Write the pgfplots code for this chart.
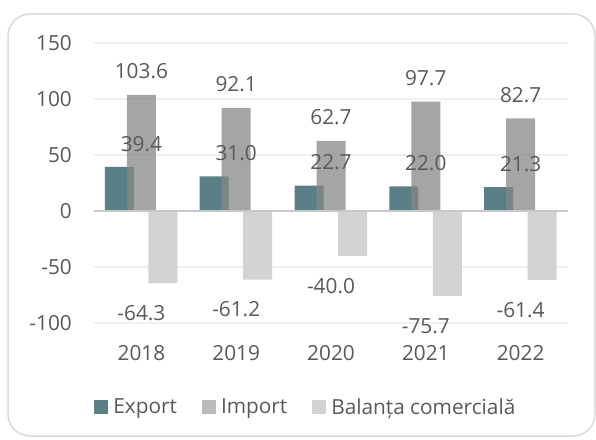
\documentclass[border=0pt]{standalone}
\usepackage{pgfplots}
\pgfplotsset{compat=1.18}
\usepackage{fontspec}
\setmainfont{Open Sans}
\definecolor{exportc}{RGB}{91,127,134}
\definecolor{importc}{RGB}{135,135,135}
\definecolor{importl}{RGB}{165,165,165}
\definecolor{balc}{RGB}{211,211,211}
\definecolor{txt}{RGB}{89,89,89}
\definecolor{gridc}{RGB}{240,240,240}
\definecolor{zeroc}{RGB}{200,200,200}
\definecolor{borderc}{RGB}{217,217,217}
\begin{document}
\begin{tikzpicture}[x=1pt,y=1pt]
\useasboundingbox (0,0) rectangle (596,439);
\fill[white] (0,0) rectangle (596,439);
\draw[borderc, line width=1.5pt, rounded corners=22pt, fill=white] (8,3) rectangle (595,425);
\begin{axis}[
  at={(94pt,116pt)}, anchor=south west,
  scale only axis, width=474pt, height=280pt,
  xmin=-0.5, xmax=4.5, ymin=-100, ymax=150,
  xtick={0,1,2,3,4}, xticklabels={2018,2019,2020,2021,2022},
  ytick={-100,-50,0,50,100,150}, yticklabels={-100,-50,0,50,100,150},
  major tick length=0pt,
  axis line style={draw=none},
  ymajorgrids, grid style={gridc, line width=1.5pt},
  tick label style={font=\fontsize{20.8}{25}\selectfont, text=txt},
  yticklabel style={anchor=east, inner sep=0pt, xshift=-22pt},
  xticklabel style={anchor=center, inner sep=0pt, yshift=-30.5pt},
  legend style={at={(0.447,-0.30)}, anchor=center, draw=none, fill=none,
    font=\fontsize{20.8}{25}\selectfont, text=txt,
    /tikz/every even column/.append style={column sep=23pt}},
  legend columns=3,
  nodes near coords={\pgfmathprintnumber[fixed, fixed zerofill, precision=1, assume math mode=true]{\pgfplotspointmeta}},
  every node near coord/.append style={font=\fontsize{20.8}{25}\selectfont, text=txt, anchor=center, inner sep=0pt},
]
\addplot[ybar, bar width=29pt, bar shift=-22pt, fill=exportc, draw=none,
  every node near coord/.append style={yshift=23pt},
  legend image code/.code={\fill[exportc] (0pt,-7pt) rectangle (14pt,7pt); \path (0pt,0pt) -- (17pt,0pt);}]
  coordinates {(0,39.4) (1,31.0) (2,22.7) (3,22.0) (4,21.3)};
\addlegendentry{Export}
\addplot[ybar, bar width=29pt, bar shift=0pt, fill=importc, fill opacity=0.75, draw=none,
  every node near coord/.append style={yshift=23.5pt, text opacity=1},
  legend image code/.code={\fill[importl] (0pt,-7pt) rectangle (14pt,7pt); \path (0pt,0pt) -- (17pt,0pt);}]
  coordinates {(0,103.6) (1,92.1) (2,62.7) (3,97.7) (4,82.7)};
\addlegendentry{Import}
\addplot[ybar, bar width=29pt, bar shift=21.5pt, fill=balc, draw=none,
  every node near coord/.append style={yshift=-30pt},
  legend image code/.code={\fill[balc] (0pt,-7pt) rectangle (14pt,7pt); \path (0pt,0pt) -- (17pt,0pt);}]
  coordinates {(0,-64.3) (1,-61.2) (2,-40.0) (3,-75.7) (4,-61.4)};
\addlegendentry{Balanța comercială}
\draw[zeroc, line width=2.5pt] (axis cs:-0.5,0) -- (axis cs:4.5,0);
\end{axis}
\end{tikzpicture}
\end{document}
